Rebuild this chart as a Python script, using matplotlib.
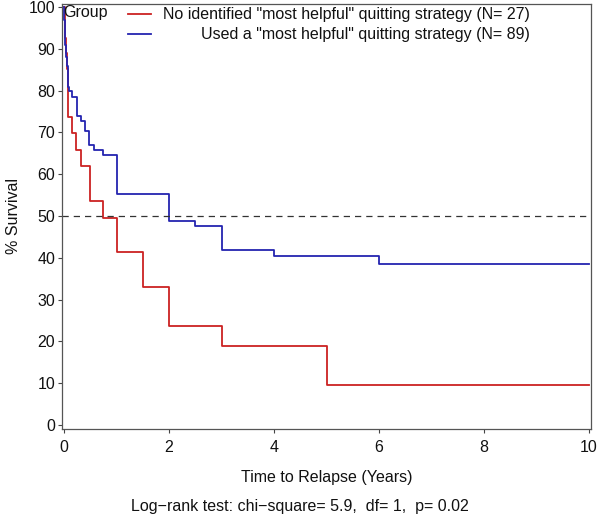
import matplotlib
matplotlib.use("Agg")
import matplotlib.pyplot as plt

plt.rcParams['font.family'] = ['Liberation Sans', 'DejaVu Sans']

# Kaplan-Meier step data (time in years, % survival)
red_t = [0, 0.01, 0.02, 0.035, 0.05, 0.08, 0.16, 0.23, 0.32, 0.50, 0.74, 1.00, 1.50, 2.00, 3.00, 5.00, 10.0]
red_s = [100, 96.3, 92.6, 88.9, 85.2, 73.6, 69.8, 65.8, 62.0, 53.7, 49.6, 41.3, 33.1, 23.7, 19.0, 9.5, 9.5]

blue_t = [0, 0.005, 0.01, 0.02, 0.03, 0.05, 0.07, 0.08, 0.10, 0.16, 0.25, 0.33, 0.40, 0.48, 0.57, 0.75, 1.00, 2.00, 2.50, 3.00, 4.00, 6.00, 10.0]
blue_s = [100, 97, 94, 91, 88, 86, 83, 80.9, 80.0, 78.5, 73.9, 72.7, 70.4, 66.9, 65.8, 64.6, 55.2, 48.9, 47.6, 41.9, 40.4, 38.4, 38.4]

red_label = 'No identified "most helpful" quitting strategy (N= 27)'
blue_label = 'Used a "most helpful" quitting strategy (N= 89)'
legend_title = 'Group'
x_ticks = [0, 2, 4, 6, 8, 10]
y_ticks = list(range(0, 101, 10))
x_label = 'Time to Relapse (Years)'
y_label = '% Survival'
footnote = 'Log\u2212rank test: chi\u2212square= 5.9,  df= 1,  p= 0.02'

RED = '#cc2222'
BLUE = '#2424b0'
FS = 11.5

fig = plt.figure(figsize=(6.0, 5.18), dpi=100)
ax = fig.add_axes([62/600, 1 - 429/518, (591 - 62)/600, (429 - 4)/518])

ax.step(red_t, red_s, where='post', color=RED, lw=1.3)
ax.step(blue_t, blue_s, where='post', color=BLUE, lw=1.3)
ax.axhline(50, color='#333333', lw=0.9, ls=(0, (5, 4)))

ax.set_xlim(-2/52.5, 10 + 2/52.5)
ax.set_ylim(-4/4.18, 100 + 3/4.18)
ax.set_xticks(x_ticks)
ax.set_yticks(y_ticks)
ax.tick_params(axis='both', direction='out', length=3, width=0.8, color='#444444',
               labelsize=FS, labelcolor='#111111', pad=2)
ax.tick_params(axis='x', pad=5)
for sp in ax.spines.values():
    sp.set_color('#555555')
    sp.set_linewidth(0.9)

ax.set_xlabel(x_label, fontsize=FS, labelpad=11, color='#111111')
ax.set_ylabel(y_label, fontsize=FS, labelpad=5, color='#111111')

# Legend drawn inside plot area (SAS style)
tr = ax.transAxes
def ax_xy(px, py):
    return ((px - 62) / (591 - 62), (429 - py) / (429 - 4))

gx, gy = ax_xy(63, 13)
ax.text(gx, gy, legend_title, transform=tr, fontsize=FS, va='center', ha='left', color='#111111')
x0, y1 = ax_xy(128, 14)
x1, _ = ax_xy(151, 14)
_, y2 = ax_xy(128, 34)
ax.plot([x0, x1], [y1, y1], transform=tr, color=RED, lw=1.3, clip_on=False)
ax.plot([x0, x1], [y2, y2], transform=tr, color=BLUE, lw=1.3, clip_on=False)
tx, _ = ax_xy(530, 0)
ax.text(tx, y1, red_label, transform=tr, fontsize=FS, va='center', ha='right', color='#111111')
ax.text(tx, y2, blue_label, transform=tr, fontsize=FS, va='center', ha='right', color='#111111')

fig.text(300/600, 1 - 506/518, footnote, fontsize=FS, ha='center', va='center', color='#111111')

fig.savefig('out.png', dpi=100)
